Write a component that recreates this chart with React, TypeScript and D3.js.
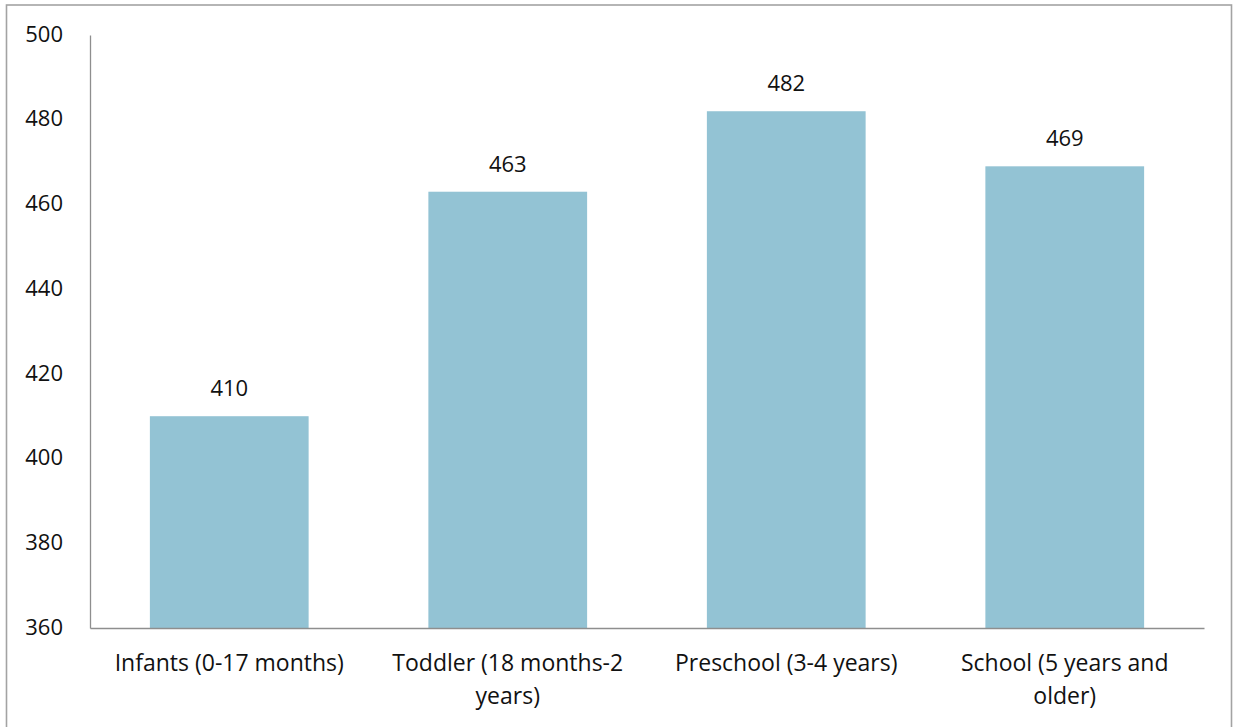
import React, { useEffect, useRef } from "react";
import * as d3 from "d3";

const categories = [
  "Infants (0-17 months)",
  "Toddler (18 months-2 years)",
  "Preschool (3-4 years)",
  "School (5 years and older)",
];
const values = [410, 463, 482, 469];
const yTicks = [360, 380, 400, 420, 440, 460, 480, 500];

const WIDTH = 1233;
const HEIGHT = 727;
const FONT = "'Open Sans', 'Noto Sans', sans-serif";

export default function App() {
  const ref = useRef<SVGSVGElement | null>(null);

  useEffect(() => {
    document.body.style.margin = "0";
    const svg = d3.select(ref.current);
    svg.selectAll("*").remove();

    const left = 90;
    const right = 1204;
    const top = 35;
    const bottom = 628;

    const x = d3
      .scaleBand<string>()
      .domain(categories)
      .range([left, right])
      .paddingInner(0.43)
      .paddingOuter(0.215);
    const y = d3.scaleLinear().domain([360, 500]).range([bottom, top]);

    // outer frame
    svg
      .append("rect")
      .attr("x", 6.5)
      .attr("y", 5)
      .attr("width", 1225)
      .attr("height", 740)
      .attr("fill", "white")
      .attr("stroke", "#a3a3a3")
      .attr("stroke-width", 1.6);

    // bars
    svg
      .append("g")
      .selectAll("rect")
      .data(values)
      .join("rect")
      .attr("x", (_, i) => x(categories[i])!)
      .attr("y", (d) => y(d))
      .attr("width", x.bandwidth())
      .attr("height", (d) => bottom - y(d))
      .attr("fill", "#93c3d4");

    // value labels
    svg
      .append("g")
      .selectAll("text")
      .data(values)
      .join("text")
      .attr("x", (_, i) => x(categories[i])! + x.bandwidth() / 2)
      .attr("y", (d) => y(d) - 20)
      .attr("text-anchor", "middle")
      .attr("font-family", FONT)
      .attr("font-size", 22)
      .attr("fill", "#111")
      .text((d) => String(d));

    // y axis
    const yAxis = d3.axisLeft(y).tickValues(yTicks).tickSize(0).tickPadding(27);
    const gy = svg.append("g").attr("transform", `translate(${left},0)`).call(yAxis);
    gy.select(".domain").attr("stroke", "#8e8e8e").attr("stroke-width", 1.3);
    gy.selectAll("text")
      .attr("font-family", FONT)
      .attr("font-size", 22)
      .attr("fill", "#111")
      .attr("dy", "0.28em");

    // x axis
    const xAxis = d3.axisBottom(x).tickSize(0).tickPadding(0).tickFormat(() => "");
    const gx = svg.append("g").attr("transform", `translate(0,${bottom})`).call(xAxis);
    gx.select(".domain").attr("stroke", "#8e8e8e").attr("stroke-width", 1.3);

    // wrapped category labels
    const maxLine = 250;
    const labels = svg.append("g");
    categories.forEach((c) => {
      const cx = x(c)! + x.bandwidth() / 2;
      const t = labels
        .append("text")
        .attr("x", cx)
        .attr("y", 671)
        .attr("text-anchor", "middle")
        .attr("font-family", FONT)
        .attr("font-size", 23)
        .attr("fill", "#111");
      const words = c.split(" ");
      let line: string[] = [];
      let tspan = t.append("tspan").attr("x", cx).attr("dy", 0);
      for (const w of words) {
        line.push(w);
        tspan.text(line.join(" "));
        if ((tspan.node() as SVGTextContentElement).getComputedTextLength() > maxLine && line.length > 1) {
          line.pop();
          tspan.text(line.join(" "));
          line = [w];
          tspan = t.append("tspan").attr("x", cx).attr("dy", 33).text(w);
        }
      }
    });
  }, []);

  return <svg ref={ref} width={WIDTH} height={HEIGHT} style={{ display: "block" }} />;
}
